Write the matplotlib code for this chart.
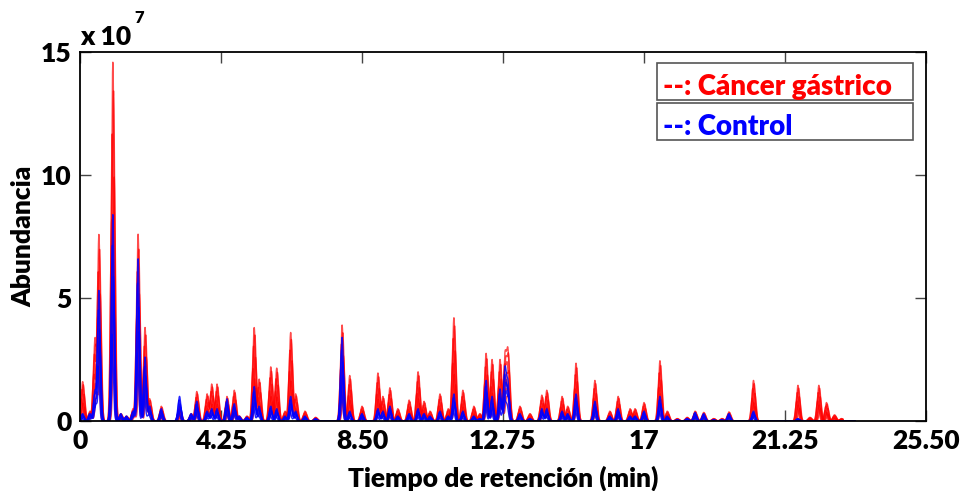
import numpy as np
import matplotlib
matplotlib.use("Agg")
import matplotlib.pyplot as plt
from matplotlib.patches import Rectangle

# Peak table (time in min, abundance in 1e7)
peak_times = [0.08, 0.30, 0.45, 0.57, 0.99, 1.23, 1.40, 1.60, 1.75, 1.96,
              2.10, 2.45, 3.00, 3.35, 3.52, 3.83, 3.97, 4.13, 4.43, 4.65,
              4.80, 5.03, 5.25, 5.40, 5.75, 5.93, 6.18, 6.35, 6.50, 6.78,
              7.10, 7.90, 8.13, 8.50, 8.98, 9.13, 9.34, 9.58, 9.92, 10.19,
              10.37, 10.55, 10.85, 11.10, 11.27, 11.54, 11.87, 12.05, 12.24, 12.42,
              12.66, 12.81, 12.90, 13.26, 13.56, 13.92, 14.07, 14.53, 14.70, 14.95,
              15.52, 15.97, 16.22, 16.58, 16.73, 17.00, 17.48, 17.70, 18.00, 18.30,
              18.54, 18.80, 19.10, 19.35, 19.56, 20.30, 21.64, 22.00, 22.27, 22.50,
              22.74, 22.95]
cancer_heights = [1.6, 0.4, 3.3, 7.55, 14.6, 0.3, 0.2, 0.5, 7.6, 3.8,
                  0.9, 0.6, 0.6, 0.3, 1.2, 1.1, 1.5, 1.5, 1.0, 1.25,
                  0.2, 0.2, 3.8, 1.7, 2.2, 2.15, 0.4, 3.6, 1.1, 0.4,
                  0.15, 3.9, 1.85, 0.6, 1.95, 1.0, 1.35, 0.5, 0.85, 2.0,
                  0.8, 0.4, 1.1, 0.5, 4.2, 1.25, 0.6, 0.3, 2.75, 2.5,
                  2.5, 2.6, 2.75, 0.6, 0.3, 1.05, 1.25, 1.0, 0.6, 2.35,
                  1.65, 0.4, 1.0, 0.5, 0.5, 0.75, 2.45, 0.4, 0.1, 0.15,
                  0.4, 0.35, 0.1, 0.1, 0.37, 1.65, 1.45, 0.15, 1.45, 0.75,
                  0.25, 0.1]
control_heights = [0.3, 0.3, 1.2, 5.3, 8.4, 0.3, 0.2, 0.4, 6.6, 2.6,
                   0.6, 0.5, 1.0, 0.3, 0.8, 0.4, 0.5, 0.5, 0.9, 0.7,
                   0.2, 0.15, 1.4, 0.6, 0.6, 0.5, 0.2, 1.0, 0.4, 0.2,
                   0.1, 3.4, 0.4, 0.3, 0.5, 0.4, 0.6, 0.2, 0.3, 0.5,
                   0.3, 0.2, 0.4, 0.2, 1.1, 0.4, 0.2, 0.1, 1.65, 1.0,
                   1.3, 2.1, 1.5, 0.3, 0.1, 0.5, 0.5, 0.4, 0.3, 1.1,
                   0.8, 0.2, 0.5, 0.2, 0.2, 0.4, 1.0, 0.2, 0.05, 0.1,
                   0.35, 0.3, 0.05, 0.05, 0.3, 0.4, 0.1, 0.0, 0.0, 0.0,
                   0.0, 0.0]

# replicate runs: relative heights and small retention shifts
cancer_scale = [1.0, 0.92, 0.8, 0.68, 0.56, 0.45, 0.35]
cancer_shift = [0.0, 0.02, -0.02, 0.04, -0.035, 0.01, 0.05]
control_scale = [1.0, 0.85, 0.7, 0.55, 0.42]
control_shift = [0.0, -0.015, 0.015, 0.03, -0.03]

x_ticks = [0, 4.25, 8.5, 12.75, 17, 21.25, 25.5]
x_labels = ['0', '4.25', '8.50', '12.75', '17', '21.25', '25.50']
y_ticks = [0, 5, 10, 15]


def trace(t, heights, scale, shift, width=0.04):
    y = np.zeros_like(t)
    for t0, h in zip(peak_times, heights):
        y += h * scale * np.exp(-0.5 * ((t - t0 - shift) / width) ** 2)
    return y


plt.rcParams['font.family'] = ['Lato', 'DejaVu Sans']
W = 'heavy'

fig = plt.figure(figsize=(9.64, 4.91), dpi=100)
ax = fig.add_axes([0.083, 0.1426, 0.8776, 0.7515])

t_red = np.arange(0, 23.0, 0.004)
t_blue = np.arange(0, 23.36, 0.004)

for s, d in zip(cancer_scale, cancer_shift):
    ax.plot(t_red, trace(t_red, cancer_heights, s, d), color='red',
            lw=1.0, alpha=0.7)
for s, d in zip(control_scale, control_shift):
    ax.plot(t_blue, trace(t_blue, control_heights, s, d), color='blue',
            lw=1.0, alpha=0.85)

ax.set_xlim(0, 25.5)
ax.set_ylim(0, 15)
ax.set_xticks(x_ticks)
ax.set_xticklabels(x_labels, fontweight=W)
ax.set_yticks(y_ticks)
ax.set_yticklabels([str(v) for v in y_ticks], fontweight=W)
ax.tick_params(direction='in', length=8, width=1, color='#444444',
               top=True, right=True, labelsize=19, pad=6)
for sp in ax.spines.values():
    sp.set_linewidth(1.3)
    sp.set_color('black')

ax.set_xlabel('Tiempo de retención (min)', fontsize=19, fontweight=W,
              labelpad=9)
ax.set_ylabel('Abundancia', fontsize=19, fontweight=W, labelpad=4)

# scale factor label
ax.text(0.0, 1.008, 'x 10', transform=ax.transAxes, fontsize=19,
        fontweight=W, ha='left', va='bottom')
ax.text(0.064, 1.07, '7', transform=ax.transAxes, fontsize=12,
        fontweight=W, ha='left', va='bottom')

# legend boxes
for y0, label, col in [(0.870, '--: Cáncer gástrico', 'red'),
                       (0.762, '--: Control', 'blue')]:
    ax.add_patch(Rectangle((0.682, y0), 0.303, 0.100, transform=ax.transAxes,
                           facecolor='white', edgecolor='#555555', lw=1.2,
                           zorder=5))
    ax.text(0.689, y0 + 0.035, label, transform=ax.transAxes, color=col,
            fontsize=20, fontweight=W, ha='left', va='center', zorder=6)

fig.savefig('out.png', dpi=100)
